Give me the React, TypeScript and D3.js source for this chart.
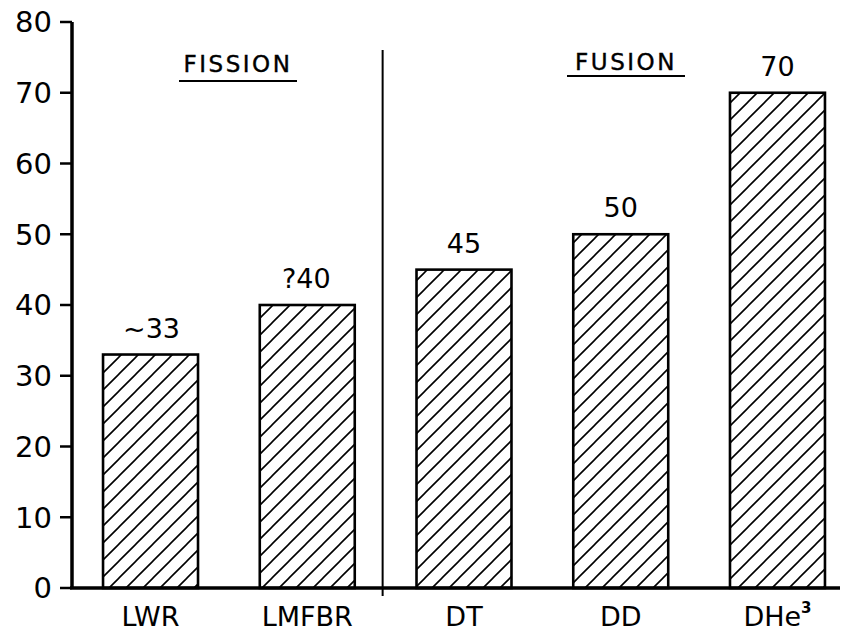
import React from "react";
import * as d3 from "d3";

const categories = ["LWR", "LMFBR", "DT", "DD", "DHe"];
const values = [33, 40, 45, 50, 70];
const valueLabels = ["~33", "?40", "45", "50", "70"];
const yTicks = [0, 10, 20, 30, 40, 50, 60, 70, 80];
const groupLabels = ["FISSION", "FUSION"];

const W = 848;
const H = 632;
const FONT = "'DejaVu Sans', Verdana, sans-serif";

export default function App() {
  const x = d3.scaleBand<string>().domain(categories).range([72, 856]).paddingInner(0.394).paddingOuter(0.198);
  const y = d3.scaleLinear().domain([0, 80]).range([588, 22]);
  const bw = x.bandwidth();
  const dividerX = (x("LMFBR")! + bw + x("DT")!) / 2 - 3;

  return (
    <div style={{ position: "fixed", left: 0, top: 0, width: W, height: H, background: "#fff" }}>
      <svg width={W} height={H} style={{ display: "block", fontFamily: FONT }}>
        <defs>
          <pattern id="hatch" patternUnits="userSpaceOnUse" width={17} height={17}>
            <path d="M0,17 L17,0 M-2,2 L2,-2 M15,19 L19,15" stroke="#000" strokeWidth={1.6} />
          </pattern>
        </defs>
        <rect width={W} height={H} fill="#fff" />
        {/* bars */}
        {categories.map((c, i) => (
          <g key={c}>
            <rect
              x={x(c)!}
              y={y(values[i])}
              width={bw}
              height={y(0) - y(values[i])}
              fill="url(#hatch)"
              stroke="#000"
              strokeWidth={2.6}
            />
            <text
              x={x(c)! + bw / 2 + (i === 0 ? 1 : i === 1 ? -1 : 0)}
              y={y(values[i]) - 17}
              textAnchor="middle"
              fontSize={27}
              fill="#000"
            >
              {valueLabels[i]}
            </text>
            <text x={x(c)! + bw / 2} y={626} textAnchor="middle" fontSize={27} fill="#000">
              {c}
              {i === 4 ? (
                <tspan fontSize={15} fontWeight="bold" dy={-13}>3</tspan>
              ) : null}
            </text>
          </g>
        ))}
        {/* divider */}
        <line x1={dividerX} x2={dividerX} y1={50} y2={596} stroke="#000" strokeWidth={2} />
        {/* group labels */}
        {groupLabels.map((g, i) => {
          const cx = i === 0 ? 238 : 626;
          return (
            <g key={g}>
              <text x={cx} y={i === 0 ? 72 : 70} textAnchor="middle" fontSize={23} letterSpacing={2.5} fill="#000" stroke="#000" strokeWidth={0.4}>
                {g}
              </text>
              <line x1={cx - 59} x2={cx + 59} y1={i === 0 ? 81 : 76} y2={i === 0 ? 81 : 76} stroke="#000" strokeWidth={2} />
            </g>
          );
        })}
        {/* axes */}
        <line x1={72} x2={72} y1={y(80)} y2={y(0) + 1} stroke="#000" strokeWidth={3.5} />
        <line x1={70} x2={840} y1={y(0)} y2={y(0)} stroke="#000" strokeWidth={3.5} />
        {yTicks.map((t) => (
          <g key={t}>
            <line x1={60} x2={72} y1={y(t)} y2={y(t)} stroke="#000" strokeWidth={2.5} />
            <text x={52} y={y(t)} dy="0.36em" textAnchor="end" fontSize={29} fill="#000">
              {t}
            </text>
          </g>
        ))}
      </svg>
    </div>
  );
}
